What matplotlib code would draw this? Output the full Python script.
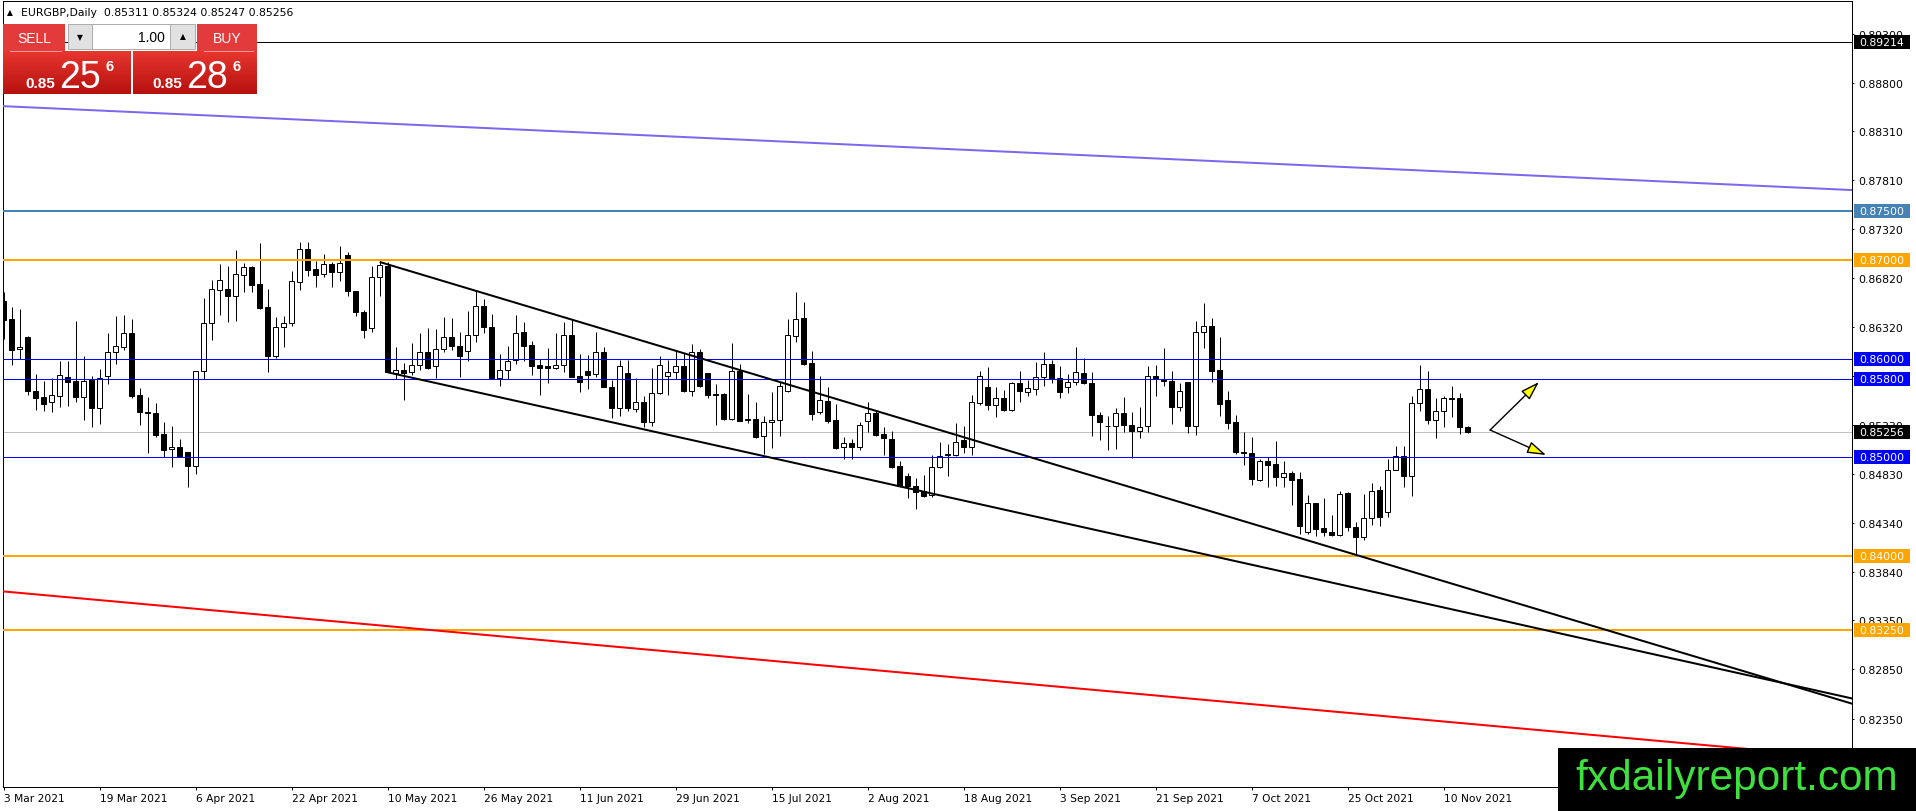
import numpy as np
import matplotlib
matplotlib.use("Agg")
import matplotlib.pyplot as plt
from matplotlib.patches import Rectangle
from matplotlib.colors import LinearSegmentedColormap
import matplotlib.transforms as mtransforms

# EURGBP daily bars, 3 Mar 2021 .. 15 Nov 2021
opens = [0.86591, 0.86405, 0.86097, 0.86219, 0.85675, 0.85614, 0.85560, 0.85627, 0.85817, 0.85776,
         0.85617, 0.85790, 0.85506, 0.85823, 0.86067, 0.86124, 0.86259, 0.85634, 0.85465, 0.85452,
         0.85239, 0.85083, 0.85104, 0.85053, 0.84918, 0.85874, 0.86361, 0.86702, 0.86709, 0.86641,
         0.86854, 0.86929, 0.86760, 0.86523, 0.86033, 0.86320, 0.86361, 0.86777, 0.87115, 0.86912,
         0.86861, 0.86962, 0.86878, 0.87054, 0.86692, 0.86472, 0.86310, 0.86827, 0.86939, 0.85861,
         0.85888, 0.85864, 0.85939, 0.86067, 0.85925, 0.86101, 0.86219, 0.86128, 0.86084, 0.86246,
         0.86533, 0.86320, 0.85806, 0.85887, 0.85985, 0.86269, 0.86141, 0.85938, 0.85924, 0.85904,
         0.85941, 0.86242, 0.85823, 0.85874, 0.85847, 0.86066, 0.85712, 0.85499, 0.85853, 0.85492,
         0.85566, 0.85363, 0.85651, 0.85830, 0.85864, 0.85924, 0.85678, 0.86066, 0.85853, 0.85644,
         0.85644, 0.85390, 0.85881, 0.85387, 0.85390, 0.85215, 0.85357, 0.85377, 0.85678, 0.86235,
         0.86411, 0.85958, 0.85458, 0.85576, 0.85380, 0.85103, 0.85147, 0.85103, 0.85367, 0.85448,
         0.85238, 0.85188, 0.84910, 0.84809, 0.84714, 0.84664, 0.84620, 0.84900, 0.85025, 0.85029,
         0.85178, 0.85103, 0.85553, 0.85712, 0.85536, 0.85600, 0.85485, 0.85752, 0.85661, 0.85695,
         0.85813, 0.85945, 0.85803, 0.85712, 0.85762, 0.85853, 0.85752, 0.85431, 0.85323, 0.85323,
         0.85448, 0.85333, 0.85272, 0.85323, 0.85823, 0.85796, 0.85772, 0.85516, 0.85762, 0.85323,
         0.86269, 0.86330, 0.85887, 0.85583, 0.85360, 0.85052, 0.85042, 0.84775, 0.84961, 0.84934,
         0.84799, 0.84843, 0.84782, 0.84241, 0.84539, 0.84282, 0.84241, 0.84217, 0.84640, 0.84299,
         0.84190, 0.84383, 0.84674, 0.84444, 0.84876, 0.85012, 0.84816, 0.85549, 0.85694, 0.85383,
         0.85468, 0.85600, 0.85600, 0.85311]
highs = [0.86675, 0.86523, 0.86506, 0.86236, 0.85847, 0.85780, 0.85803, 0.85982, 0.85979, 0.86388,
         0.86033, 0.85830, 0.85898, 0.86263, 0.86432, 0.86445, 0.86405, 0.85705, 0.85617, 0.85553,
         0.85364, 0.85317, 0.85188, 0.85060, 0.85880, 0.86614, 0.86800, 0.86962, 0.86946, 0.87104,
         0.86973, 0.86946, 0.87175, 0.86709, 0.86422, 0.86439, 0.86888, 0.87182, 0.87182, 0.86996,
         0.87064, 0.86986, 0.87148, 0.87081, 0.86692, 0.86499, 0.86946, 0.86996, 0.86979, 0.86118,
         0.85959, 0.86161, 0.86263, 0.86310, 0.86303, 0.86422, 0.86415, 0.86276, 0.86489, 0.86692,
         0.86608, 0.86455, 0.86049, 0.86134, 0.86445, 0.86371, 0.86181, 0.85999, 0.86110, 0.86262,
         0.86371, 0.86404, 0.86049, 0.86039, 0.86269, 0.86117, 0.85789, 0.85989, 0.85989, 0.85803,
         0.85620, 0.85904, 0.86033, 0.85989, 0.86083, 0.86060, 0.86151, 0.86100, 0.85853, 0.85745,
         0.85650, 0.86161, 0.85948, 0.85644, 0.85559, 0.85424, 0.85661, 0.85769, 0.86404, 0.86675,
         0.86580, 0.86083, 0.85823, 0.85712, 0.85542, 0.85205, 0.85188, 0.85357, 0.85559, 0.85482,
         0.85313, 0.85265, 0.84968, 0.84843, 0.84789, 0.84823, 0.85025, 0.85161, 0.85137, 0.85350,
         0.85323, 0.85634, 0.85881, 0.85914, 0.85712, 0.85684, 0.85769, 0.85874, 0.85789, 0.85965,
         0.86073, 0.85989, 0.85924, 0.85847, 0.86117, 0.86006, 0.85864, 0.85465, 0.85424, 0.85502,
         0.85610, 0.85458, 0.85512, 0.85924, 0.85938, 0.86110, 0.85874, 0.85756, 0.85762, 0.86388,
         0.86567, 0.86411, 0.86218, 0.85678, 0.85431, 0.85255, 0.85211, 0.84985, 0.85002, 0.85164,
         0.84961, 0.84866, 0.84849, 0.84620, 0.84539, 0.84589, 0.84417, 0.84664, 0.84653, 0.84349,
         0.84630, 0.84741, 0.84708, 0.84985, 0.85113, 0.85113, 0.85627, 0.85938, 0.85880, 0.85603,
         0.85627, 0.85722, 0.85654, 0.85324]
lows = [0.86202, 0.85938, 0.85999, 0.85638, 0.85485, 0.85475, 0.85465, 0.85516, 0.85526, 0.85567,
        0.85381, 0.85313, 0.85337, 0.85746, 0.85952, 0.86090, 0.85600, 0.85333, 0.85043, 0.85212,
        0.85009, 0.84907, 0.85002, 0.84698, 0.84833, 0.85796, 0.86195, 0.86449, 0.86378, 0.86388,
        0.86675, 0.86682, 0.86506, 0.85871, 0.86013, 0.86118, 0.86330, 0.86702, 0.86844, 0.86726,
        0.86834, 0.86726, 0.86794, 0.86635, 0.86439, 0.86212, 0.86276, 0.86635, 0.85864, 0.85796,
        0.85587, 0.85837, 0.85891, 0.85898, 0.85803, 0.86074, 0.86094, 0.85813, 0.85982, 0.86168,
        0.86263, 0.85796, 0.85728, 0.85796, 0.85948, 0.85982, 0.85837, 0.85637, 0.85755, 0.85897,
        0.85864, 0.85813, 0.85661, 0.85695, 0.85813, 0.85712, 0.85397, 0.85418, 0.85475, 0.85458,
        0.85306, 0.85316, 0.85644, 0.85634, 0.85796, 0.85668, 0.85620, 0.85712, 0.85600, 0.85333,
        0.85385, 0.85384, 0.85374, 0.85350, 0.85198, 0.85036, 0.85093, 0.85221, 0.85668, 0.86175,
        0.85938, 0.85384, 0.85441, 0.85346, 0.85086, 0.84985, 0.84985, 0.85079, 0.85262, 0.85221,
        0.85029, 0.84894, 0.84697, 0.84589, 0.84478, 0.84596, 0.84596, 0.84890, 0.84816, 0.85012,
        0.85042, 0.85025, 0.85532, 0.85485, 0.85407, 0.85468, 0.85468, 0.85566, 0.85627, 0.85637,
        0.85722, 0.85752, 0.85600, 0.85651, 0.85735, 0.85742, 0.85221, 0.85177, 0.85079, 0.85086,
        0.85262, 0.84992, 0.85198, 0.85262, 0.85620, 0.85728, 0.85340, 0.85475, 0.85248, 0.85232,
        0.86110, 0.85762, 0.85424, 0.85289, 0.85040, 0.84927, 0.84724, 0.84765, 0.84704, 0.84714,
        0.84704, 0.84522, 0.84224, 0.84224, 0.84207, 0.84207, 0.84201, 0.84201, 0.84258, 0.84004,
        0.84167, 0.84315, 0.84309, 0.84400, 0.84876, 0.84704, 0.84613, 0.85475, 0.85340, 0.85194,
        0.85306, 0.85414, 0.85238, 0.85247]
closes = [0.86398, 0.86094, 0.86117, 0.85678, 0.85607, 0.85546, 0.85634, 0.85837, 0.85769, 0.85617,
          0.85776, 0.85506, 0.85803, 0.86067, 0.86128, 0.86259, 0.85627, 0.85465, 0.85448, 0.85232,
          0.85080, 0.85104, 0.85009, 0.84918, 0.85874, 0.86361, 0.86709, 0.86800, 0.86641, 0.86861,
          0.86929, 0.86753, 0.86516, 0.86033, 0.86320, 0.86361, 0.86787, 0.87115, 0.86905, 0.86851,
          0.86962, 0.86878, 0.86973, 0.86685, 0.86472, 0.86297, 0.86827, 0.86952, 0.85871, 0.85888,
          0.85861, 0.85939, 0.86067, 0.85911, 0.86101, 0.86219, 0.86128, 0.86033, 0.86246, 0.86533,
          0.86320, 0.85806, 0.85887, 0.85979, 0.86262, 0.86134, 0.85931, 0.85904, 0.85904, 0.85941,
          0.86242, 0.85820, 0.85762, 0.85840, 0.86066, 0.85712, 0.85499, 0.85931, 0.85499, 0.85566,
          0.85363, 0.85651, 0.85941, 0.85864, 0.85924, 0.85678, 0.86066, 0.85722, 0.85637, 0.85637,
          0.85390, 0.85874, 0.85374, 0.85380, 0.85211, 0.85357, 0.85377, 0.85722, 0.86242, 0.86404,
          0.85948, 0.85441, 0.85583, 0.85374, 0.85096, 0.85147, 0.85103, 0.85330, 0.85448, 0.85232,
          0.85194, 0.84907, 0.84714, 0.84714, 0.84647, 0.84613, 0.84900, 0.85012, 0.85035, 0.85161,
          0.85103, 0.85559, 0.85830, 0.85536, 0.85600, 0.85485, 0.85752, 0.85678, 0.85701, 0.85813,
          0.85945, 0.85796, 0.85661, 0.85769, 0.85864, 0.85752, 0.85431, 0.85357, 0.85320, 0.85448,
          0.85333, 0.85272, 0.85306, 0.85823, 0.85796, 0.85772, 0.85516, 0.85678, 0.85323, 0.86269,
          0.86330, 0.85881, 0.85543, 0.85350, 0.85052, 0.85045, 0.84782, 0.84961, 0.84927, 0.84799,
          0.84843, 0.84775, 0.84309, 0.84539, 0.84275, 0.84241, 0.84217, 0.84630, 0.84299, 0.84197,
          0.84383, 0.84664, 0.84400, 0.84876, 0.85012, 0.84816, 0.85549, 0.85694, 0.85383, 0.85468,
          0.85600, 0.85593, 0.85306, 0.85256]

date_labels = ["3 Mar 2021", "19 Mar 2021", "6 Apr 2021", "22 Apr 2021", "10 May 2021",
               "26 May 2021", "11 Jun 2021", "29 Jun 2021", "15 Jul 2021", "2 Aug 2021",
               "18 Aug 2021", "3 Sep 2021", "21 Sep 2021", "7 Oct 2021", "25 Oct 2021",
               "10 Nov 2021"]
bars_per_label = 12

price_ticks = [0.89300, 0.88800, 0.88310, 0.87810, 0.87320, 0.86820, 0.86320, 0.85830,
               0.85330, 0.84830, 0.84340, 0.83840, 0.83350, 0.82850, 0.82350]

# horizontal levels
level_prices = [0.89214, 0.87500, 0.87000, 0.86000, 0.85800, 0.85000, 0.84000, 0.83250]
level_colors = ["black", "#4682B4", "#FFA500", "#0000FF", "#0000FF", "#0000FF", "#FFA500", "#FFA500"]
level_px = [1, 2, 2, 1, 1, 1, 2, 2]
bid_price = 0.85256

# trend lines: (bar, price) end points
trend_bars = [[-0.5, 231.5], [-0.5, 231.5], [47, 231.5], [48, 231.5]]
trend_prices = [[0.88565, 0.87711], [0.83645, 0.81945], [0.86983, 0.82492], [0.85864, 0.82548]]
trend_colors = ["#7B68EE", "#FF0000", "black", "black"]

# scenario arrows (start bar, start price, end bar, end price)
arrow_start = (185.8, 0.85279)
arrow_ends = [(191.9, 0.85765), (192.8, 0.85025)]

symbol = "EURGBP,Daily"
bid_quote = ("0.85", "25", "6")
ask_quote = ("0.85", "28", "6")
lot = "1.00"

W, H = 1916, 812
PX = 0.72  # one pixel in points at dpi 100

fig = plt.figure(figsize=(W / 100, H / 100), dpi=100)
fig.patch.set_facecolor("white")
ax = fig.add_axes([2.5 / W, 1 - 788 / H, (1852 - 2.5) / W, (788 - 2.3) / H])

n = len(closes)
x = np.arange(n) * 1.0
o = np.array(opens); c = np.array(closes)
up = c >= o

ax.vlines(x, lows, highs, color="black", lw=PX, zorder=2)
ax.bar(x[up], (c - o)[up], bottom=o[up], width=0.55, facecolor="white",
       edgecolor="black", linewidth=PX, zorder=3)
ax.bar(x[~up], (c - o)[~up], bottom=o[~up], width=0.55, facecolor="black",
       edgecolor="black", linewidth=PX, zorder=3)

for p, col, w in zip(level_prices, level_colors, level_px):
    ax.axhline(p, color=col, lw=w * PX, zorder=4)
ax.axhline(bid_price, color="#C0C0C0", lw=PX, zorder=1)

for bx, by, col in zip(trend_bars, trend_prices, trend_colors):
    ax.plot(bx, by, color=col, lw=2 * PX, zorder=5, solid_capstyle="butt")

for end in arrow_ends:
    ax.annotate("", xy=end, xytext=arrow_start,
                arrowprops=dict(arrowstyle="-|>,head_length=1.1,head_width=0.35",
                                mutation_scale=10.5, fc="#FFFF00", ec="black",
                                lw=1.0, shrinkA=0, shrinkB=0), zorder=6)

ax.set_xlim(-0.15, 231.04)
ax.set_ylim(0.81658, 0.89627)

ax.yaxis.tick_right()
ax.set_yticks(price_ticks)
ax.set_yticklabels(["%.5f" % t for t in price_ticks])
ax.tick_params(axis="y", direction="out", length=2 * PX, width=PX, pad=3.2,
               labelsize=7.8, colors="black")
tick_pos = [i * bars_per_label for i in range(len(date_labels))]
ax.set_xticks(tick_pos)
ax.set_xticklabels(date_labels)
ax.tick_params(axis="x", direction="out", length=3 * PX, width=PX, pad=2.5,
               labelsize=7.7, colors="black")
for lbl in ax.get_xticklabels():
    lbl.set_horizontalalignment("left")
for s in ax.spines.values():
    s.set_linewidth(PX)
    s.set_color("black")

# price tags on the right scale
trans = mtransforms.blended_transform_factory(ax.transAxes, ax.transData)
y0, y1 = ax.get_ylim()
dpp = (y1 - y0) / (788 - 2.3)
ax_w = 1852 - 2.5
tags = list(zip(level_prices, level_colors)) + [(bid_price, "black")]
for p, col in tags:
    ax.add_patch(Rectangle(((1854 - 2.5) / ax_w, p - 7 * dpp), 56 / ax_w, 14 * dpp,
                           transform=trans, facecolor=col, edgecolor="none",
                           clip_on=False, zorder=10))
    ax.text((1859.5 - 2.5) / ax_w, p, "%.5f" % p, transform=trans, color="white",
            fontsize=7.8, va="center", ha="left", clip_on=False, zorder=11)

# overlay in pixel coordinates for the window furniture
ov = fig.add_axes([0, 0, 1, 1])
ov.set_zorder(5)
ov.patch.set_alpha(0)
ov.axis("off")

ov.text(10, 12.5, "\u25b2", fontsize=5.5, ha="center", va="center")
ov.text(21, 12.5, "%s  %.5f %.5f %.5f %.5f" % (symbol, opens[-1], highs[-1], lows[-1], closes[-1]),
        fontsize=7.8, ha="left", va="center")

red_grad = LinearSegmentedColormap.from_list("red_grad", ["#E8362F", "#B5110F"])
grad = np.linspace(0, 1, 64).reshape(-1, 1)
sf = ["Liberation Sans", "DejaVu Sans"]
for bx0, bx1, bb0, bb1, word, q, qx in [(3, 131, 3, 65, "SELL", bid_quote, 25),
                                        (133, 257, 197, 257, "BUY", ask_quote, 152)]:
    ov.imshow(grad, extent=[bx0, bx1, 95, 52], cmap=red_grad, aspect="auto", zorder=1)
    ov.add_patch(Rectangle((bb0, 25), bb1 - bb0, 27, facecolor="#E33B3B", edgecolor="none", zorder=1))
    ov.plot([bb0 + 7, bb1 - 4], [51.5, 51.5], color="#F29A9A", lw=PX, zorder=2)
    ov.text((bb0 + bb1) / 2, 39, word, color="white", fontsize=10, ha="center", va="center",
            family=sf, zorder=3)
    ov.text(qx, 88, q[0], color="white", fontsize=11, fontweight="bold", ha="left",
            va="baseline", family=sf, zorder=3)
    ov.text(qx + 34, 88, q[1], color="white", fontsize=27, ha="left", va="baseline",
            family=sf, zorder=3)
    ov.text(qx + 81, 71, q[2], color="white", fontsize=10.5, fontweight="bold", ha="left",
            va="baseline", family=sf, zorder=3)

ov.add_patch(Rectangle((68, 25), 24, 25, facecolor="#E1E1E1", edgecolor="#ADADAD", lw=PX, zorder=1))
ov.add_patch(Rectangle((92, 25), 78, 25, facecolor="white", edgecolor="#ADADAD", lw=PX, zorder=1))
ov.add_patch(Rectangle((170, 25), 25, 25, facecolor="#E1E1E1", edgecolor="#ADADAD", lw=PX, zorder=1))
ov.text(80, 38, "\u25bc", fontsize=5.5, ha="center", va="center", zorder=3)
ov.text(182.5, 37, "\u25b2", fontsize=5.5, ha="center", va="center", zorder=3)
ov.text(165, 38, lot, fontsize=10, ha="right", va="center", family=sf, zorder=3)

# watermark
ov.add_patch(Rectangle((1558, 749), W - 1558, H - 749, facecolor="black", edgecolor="none", zorder=4))
ov.text(1737, 790, "fxdailyreport.com", color="#3EE03E", fontsize=30.5, ha="center",
        va="baseline", family=sf, zorder=5)

ov.set_xlim(0, W)
ov.set_ylim(H, 0)

fig.savefig("out.png", dpi=100)
